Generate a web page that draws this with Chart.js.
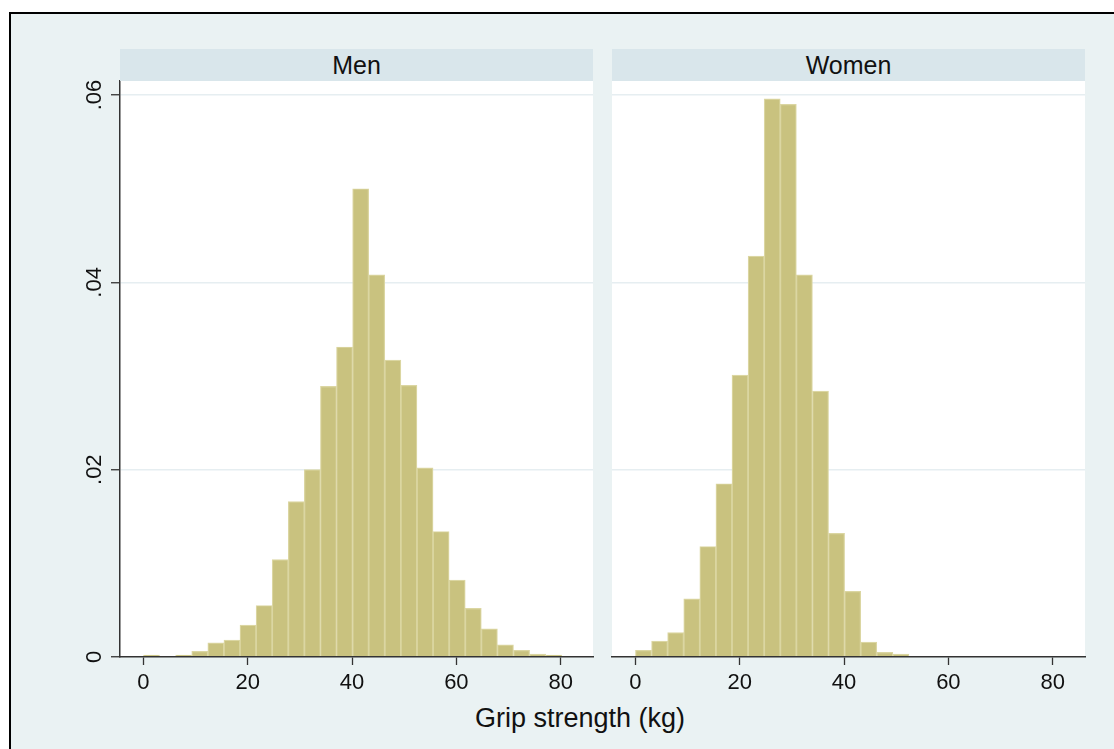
<!DOCTYPE html>
<html>
<head>
<meta charset="utf-8">
<title>Grip strength by sex</title>
<script src="https://cdn.jsdelivr.net/npm/chart.js@4.4.1/dist/chart.umd.min.js"></script>
<style>
  html, body { margin: 0; padding: 0; background: #fff; overflow: hidden; }
  body { width: 1114px; height: 749px; position: relative; font-family: 'Liberation Sans', Arial, sans-serif; }
  .frame { position: absolute; left: 9px; top: 12px; width: 1200px; height: 800px;
           border-left: 2px solid #000; border-top: 2px solid #000; background: #eaf2f3; }
  canvas { position: absolute; top: 49px; }
  .strip { position: absolute; top: 49px; width: 473px; height: 32px; line-height: 32px;
           background: #d9e6eb; text-align: center; font-size: 25px; color: #111; }
  .xtitle { position: absolute; top: 703px; left: 380px; width: 400px; text-align: center;
            font-size: 27px; line-height: 30px; color: #111; }
</style>
</head>
<body>
<div class="frame"></div>
<canvas id="men-chart" width="600" height="651" style="left:0px"></canvas>
<canvas id="women-chart" width="500" height="651" style="left:600px"></canvas>
<div class="strip" style="left:120px">Men</div>
<div class="strip" style="left:612px">Women</div>
<div class="xtitle">Grip strength (kg)</div>

<script>
// bin midpoints (kg), shared by both panels
const BIN_CENTERS = [1.54, 4.63, 7.71, 10.80, 13.88, 16.97, 20.05, 23.14, 26.22, 29.31,
  32.39, 35.48, 38.56, 41.65, 44.73, 47.82, 50.90, 53.99, 57.07, 60.16,
  63.24, 66.33, 69.41, 72.50, 75.58, 78.67];

const MEN_DENSITY = [0.0002, 0, 0.0002, 0.0006, 0.0015, 0.0018, 0.0034, 0.0055, 0.0104, 0.0166,
  0.0200, 0.0289, 0.0331, 0.0500, 0.0408, 0.0317, 0.0290, 0.0202, 0.0134, 0.0082,
  0.0052, 0.0030, 0.0013, 0.0007, 0.0003, 0.0002];

const WOMEN_DENSITY = [0.0007, 0.0017, 0.0026, 0.0062, 0.0118, 0.0185, 0.0301, 0.0428, 0.0596, 0.0590,
  0.0408, 0.0284, 0.0132, 0.0070, 0.0016, 0.0005, 0.0003];

const X_TICKS = [0, 20, 40, 60, 80];
const Y_TICKS = [0, 0.02, 0.04, 0.06];
const X_RANGE = [-4.5, 86.2];
const Y_RANGE = [0, 0.0615];

const BAR_FILL = '#c9c27f';
const BAR_EDGE = '#dbd6a2';
const GRID = '#e6eef1';
const INK = '#111';
const AXIS = '#333';
const FONT = "'Liberation Sans', Arial, sans-serif";

// white plot region behind the bars
const plotBackground = {
  id: 'plotBackground',
  beforeDraw(chart) {
    const { ctx, chartArea: a } = chart;
    ctx.save();
    ctx.fillStyle = '#fff';
    ctx.fillRect(a.left, a.top, a.right - a.left, a.bottom - a.top);
    ctx.restore();
  }
};

function yLabel(v) {
  return v === 0 ? '0' : String(v).replace(/^0/, '');
}

function makeChart(id, values, withYAxis, pad) {
  const points = values.map((y, i) => ({ x: BIN_CENTERS[i], y }));
  return new Chart(document.getElementById(id), {
    type: 'bar',
    data: {
      datasets: [{
        data: points,
        backgroundColor: BAR_FILL,
        borderColor: BAR_EDGE,
        borderWidth: 1.2,
        barPercentage: 1,
        categoryPercentage: 1
      }]
    },
    options: {
      responsive: false,
      animation: false,
      layout: { padding: pad },
      plugins: { legend: { display: false }, tooltip: { enabled: false } },
      scales: {
        x: {
          type: 'linear',
          offset: false,
          min: X_RANGE[0],
          max: X_RANGE[1],
          afterBuildTicks: s => { s.ticks = X_TICKS.map(value => ({ value })); },
          afterFit: s => { s.height = 43; },
          grid: { offset: false, drawOnChartArea: false, tickLength: 8, tickColor: AXIS, tickWidth: 1.3 },
          border: { display: true, color: AXIS, width: 1.5, z: 1 },
          ticks: { color: INK, padding: 5, maxRotation: 0, font: { family: FONT, size: 22 } }
        },
        y: {
          min: Y_RANGE[0],
          max: Y_RANGE[1],
          afterBuildTicks: s => { s.ticks = Y_TICKS.map(value => ({ value })); },
          afterFit: s => { s.width = withYAxis ? 120 : 12; },
          grid: {
            color: c => (c.tick && c.tick.value === 0 ? 'rgba(0,0,0,0)' : GRID),
            lineWidth: 1.5,
            drawTicks: withYAxis,
            tickLength: 9,
            tickColor: AXIS,
            tickWidth: 1.3
          },
          border: { display: withYAxis, color: AXIS, width: 1.5 },
          ticks: {
            display: withYAxis,
            color: INK,
            padding: 1,
            minRotation: 90,
            maxRotation: 90,
            crossAlign: 'center',
            font: { family: FONT, size: 22 },
            callback: yLabel
          }
        }
      }
    },
    plugins: [plotBackground]
  });
}

makeChart('men-chart', MEN_DENSITY, true, { top: 32, right: 7, left: 0, bottom: 0 });
makeChart('women-chart', WOMEN_DENSITY, false, { top: 32, right: 15, left: 0, bottom: 0 });
</script>
</body>
</html>
